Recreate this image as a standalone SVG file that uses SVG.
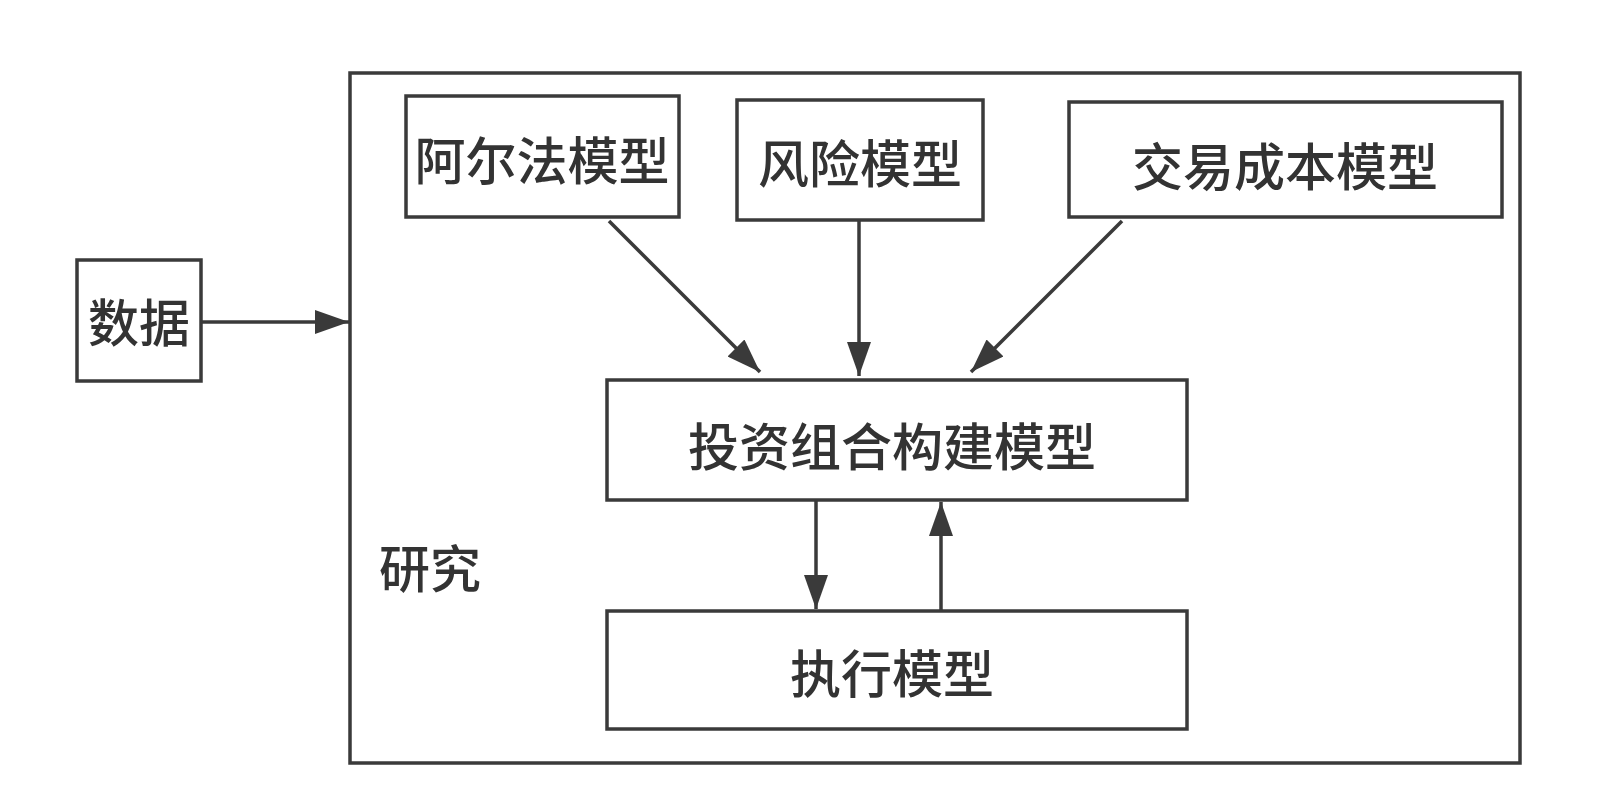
<svg xmlns="http://www.w3.org/2000/svg" width="1600" height="798" viewBox="0 0 1600 798">
<style>
.box{fill:#fff;stroke:#3a3a3a;stroke-width:3.5}
.t{font-family:"Noto Sans CJK SC","Noto Sans",sans-serif;font-size:51px;font-weight:500;fill:#333;text-anchor:middle;dominant-baseline:central}
.c{stroke:#3a3a3a;stroke-width:3.5;fill:none;marker-end:url(#ah)}
</style>
<defs>
<marker id="ah" viewBox="0 0 34 24" refX="34" refY="12" markerWidth="34" markerHeight="24" markerUnits="userSpaceOnUse" orient="auto">
<path d="M0,0 L34,12 L0,24 z" fill="#3a3a3a"/>
</marker>
</defs>
<rect width="1600" height="798" fill="#fff"/>
<g id="research">
<rect class="box" x="350" y="73" width="1170" height="690"/>
<text class="t" x="430" y="566">研究</text>
</g>
<g id="data">
<rect class="box" x="77" y="260" width="124" height="121"/>
<text class="t" x="139" y="320">数据</text>
</g>
<g id="alpha">
<rect class="box" x="406" y="96" width="273" height="121"/>
<text class="t" x="542" y="158">阿尔法模型</text>
</g>
<g id="risk">
<rect class="box" x="737" y="100" width="246" height="120"/>
<text class="t" x="860" y="161">风险模型</text>
</g>
<g id="tcost">
<rect class="box" x="1069" y="102" width="433" height="115"/>
<text class="t" x="1285" y="164">交易成本模型</text>
</g>
<g id="portfolio">
<rect class="box" x="607" y="380" width="580" height="120"/>
<text class="t" x="892" y="444">投资组合构建模型</text>
</g>
<g id="exec">
<rect class="box" x="607" y="611" width="580" height="118"/>
<text class="t" x="892" y="671">执行模型</text>
</g>
<g id="connectors">
<line class="c" x1="201" y1="322" x2="349" y2="322"/>
<line class="c" x1="609" y1="221" x2="760" y2="372"/>
<line class="c" x1="859" y1="220" x2="859" y2="376"/>
<line class="c" x1="1122" y1="221" x2="971" y2="372"/>
<line class="c" x1="816" y1="500" x2="816" y2="609"/>
<line class="c" x1="941" y1="611" x2="941" y2="502"/>
</g>
</svg>
